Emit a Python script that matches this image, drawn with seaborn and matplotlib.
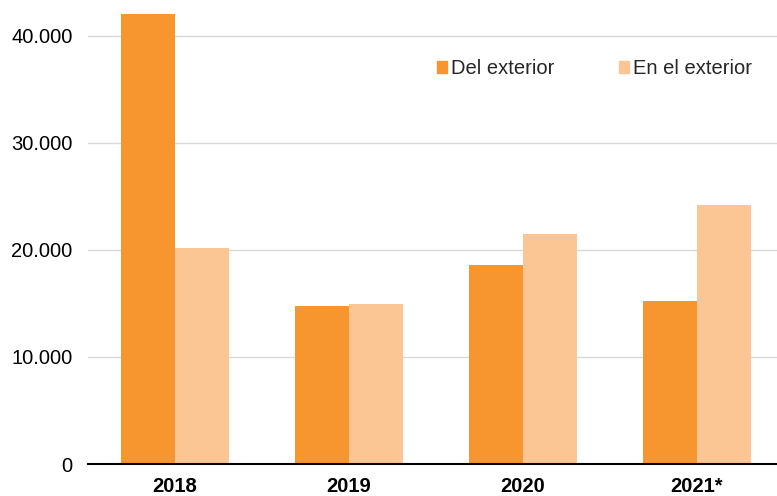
import matplotlib
matplotlib.use("Agg")
import matplotlib.pyplot as plt
import pandas as pd
import seaborn as sns
from matplotlib.patches import Patch
from matplotlib.ticker import FuncFormatter

years = ["2018", "2019", "2020", "2021*"]
del_exterior = [42050, 14760, 18600, 15230]
en_exterior = [20190, 14950, 21490, 24200]
series = ["Del exterior", "En el exterior"]
colors = ["#F7962F", "#FBC594"]

df = pd.DataFrame({
    "year": years * 2,
    "value": del_exterior + en_exterior,
    "serie": [series[0]] * 4 + [series[1]] * 4,
})

sns.set_style("white")
plt.rcParams["font.family"] = ["Liberation Sans", "DejaVu Sans"]

fig = plt.figure(figsize=(7.77, 4.96), dpi=100)
ax = fig.add_axes([88 / 777, 32 / 496, (784 - 88) / 777, (464 - 9) / 496])

sns.barplot(data=df, x="year", y="value", hue="serie", palette=colors,
            width=0.615, saturation=1, ax=ax, legend=False)
for p in ax.patches:
    p.set_edgecolor("none")

ax.set_xlim(-0.5, 3.5)
ax.set_ylim(0, 42500)
ax.set_yticks([0, 10000, 20000, 30000, 40000])
ax.yaxis.set_major_formatter(FuncFormatter(lambda v, _: f"{v:,.0f}".replace(",", ".")))
ax.grid(axis="y", color="#D9D9D9", linewidth=1)
ax.set_axisbelow(True)
for s in ["top", "right", "left"]:
    ax.spines[s].set_visible(False)
ax.spines["bottom"].set_color("black")
ax.spines["bottom"].set_linewidth(1.5)
ax.tick_params(axis="both", length=0, labelsize=14.5, colors="black")
ax.tick_params(axis="x", pad=9)
ax.tick_params(axis="y", pad=11)
for lab in ax.get_xticklabels():
    lab.set_fontweight("bold")
ax.set_xlabel("")
ax.set_ylabel("")

handles = [Patch(color=c, label=s) for c, s in zip(colors, series)]
ax.legend(handles=handles, ncol=2, frameon=False, fontsize=14.5,
          loc="upper left", bbox_to_anchor=(0.475, 0.93),
          handlelength=0.5, handleheight=0.5, handletextpad=0.2,
          columnspacing=3.2)

fig.savefig("out.png", dpi=100)
